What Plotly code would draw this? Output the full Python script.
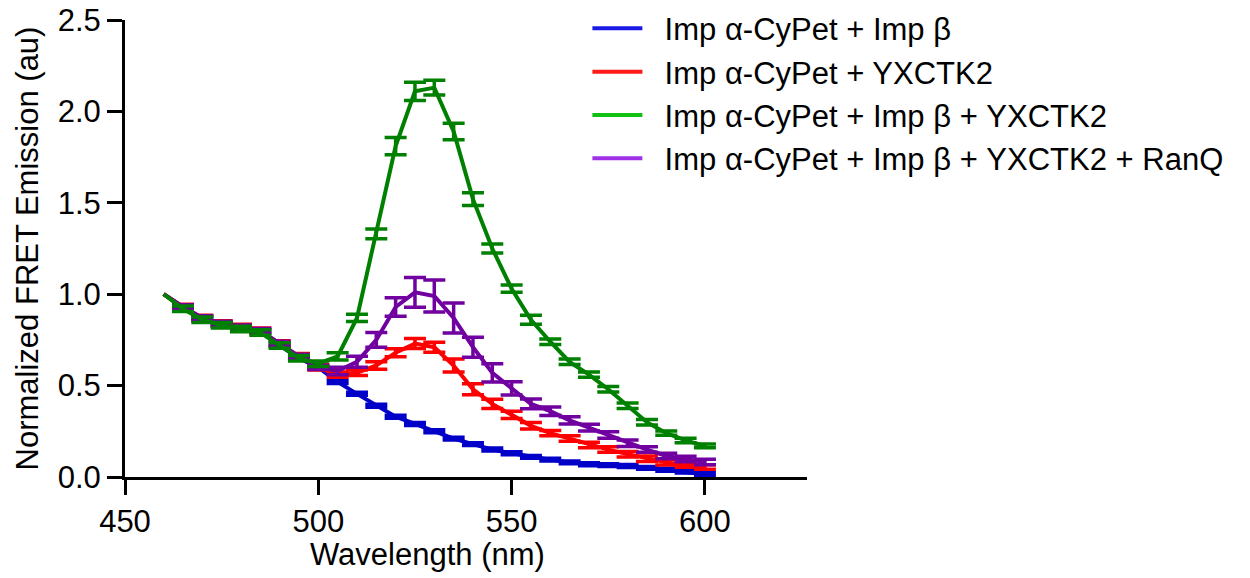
import plotly.graph_objects as go

# ---------------- data ----------------
wavelength = [460, 465, 470, 475, 480, 485, 490, 495, 500, 505, 510, 515, 520, 525, 530,
              535, 540, 545, 550, 555, 560, 565, 570, 575, 580, 585, 590, 595, 600]

blue_vals = [1.00, 0.93, 0.87, 0.84, 0.82, 0.80, 0.72, 0.65, 0.60, 0.52, 0.455, 0.39, 0.33, 0.29, 0.25,
             0.21, 0.18, 0.15, 0.13, 0.11, 0.095, 0.08, 0.07, 0.065, 0.06, 0.05, 0.04, 0.03, 0.015]
blue_err = [0, 0.008, 0.008, 0.008, 0.008, 0.008, 0.008, 0.008, 0.008, 0.008, 0.008, 0.008, 0.008, 0.008, 0.008,
            0.008, 0.008, 0.008, 0.008, 0.008, 0.008, 0.008, 0.008, 0.008, 0.008, 0.008, 0.008, 0.008, 0.008]

red_vals = [1.00, 0.93, 0.87, 0.84, 0.82, 0.80, 0.73, 0.66, 0.60, 0.56, 0.57, 0.61, 0.68, 0.73, 0.71,
            0.61, 0.48, 0.40, 0.34, 0.28, 0.24, 0.21, 0.175, 0.15, 0.125, 0.10, 0.08, 0.065, 0.055]
red_err = [0, 0.015, 0.015, 0.015, 0.015, 0.015, 0.015, 0.015, 0.015, 0.015, 0.015, 0.02, 0.022, 0.027, 0.027,
           0.036, 0.03, 0.025, 0.02, 0.018, 0.015, 0.015, 0.015, 0.015, 0.015, 0.015, 0.015, 0.012, 0.012]

green_vals = [1.00, 0.92, 0.86, 0.83, 0.81, 0.79, 0.72, 0.65, 0.62, 0.66, 0.87, 1.33, 1.81, 2.11, 2.13,
              1.89, 1.52, 1.25, 1.03, 0.86, 0.74, 0.63, 0.56, 0.48, 0.39, 0.30, 0.24, 0.20, 0.17]
green_err = [0, 0.015, 0.015, 0.015, 0.015, 0.015, 0.015, 0.015, 0.015, 0.02, 0.02, 0.027, 0.047, 0.05, 0.04,
             0.045, 0.035, 0.025, 0.02, 0.025, 0.015, 0.015, 0.015, 0.015, 0.015, 0.015, 0.012, 0.012, 0.01]

purple_vals = [1.00, 0.93, 0.87, 0.84, 0.82, 0.80, 0.73, 0.66, 0.60, 0.58, 0.63, 0.75, 0.93, 1.01, 0.99,
               0.87, 0.71, 0.57, 0.485, 0.40, 0.36, 0.31, 0.27, 0.23, 0.185, 0.15, 0.115, 0.098, 0.082]
purple_err = [0, 0.012, 0.012, 0.012, 0.012, 0.012, 0.012, 0.012, 0.012, 0.02, 0.03, 0.04, 0.05, 0.082, 0.087,
              0.082, 0.055, 0.05, 0.036, 0.027, 0.023, 0.02, 0.018, 0.018, 0.018, 0.015, 0.015, 0.015, 0.015]

series_names = [
    "Imp \u03b1-CyPet + Imp \u03b2",
    "Imp \u03b1-CyPet + YXCTK2",
    "Imp \u03b1-CyPet + Imp \u03b2 + YXCTK2",
    "Imp \u03b1-CyPet + Imp \u03b2 + YXCTK2 + RanQ",
]
plot_colors = ["#0000C8", "#FF0000", "#008000", "#7000A0"]
legend_colors = ["#1A1AE6", "#FF1A1A", "#12C012", "#A030E8"]

x_ticks = [450, 500, 550, 600]
y_ticks = [0.0, 0.5, 1.0, 1.5, 2.0, 2.5]

x_title = "Wavelength (nm)"
y_title = "Normalized FRET Emission (au)"

FONT = "Arial, 'Liberation Sans', sans-serif"
FS = 31

fig = go.Figure()

# draw order: blue, red, purple, green (green on top)
order = [
    (blue_vals, blue_err, 0),
    (red_vals, red_err, 1),
    (purple_vals, purple_err, 3),
    (green_vals, green_err, 2),
]
for vals, err, idx in order:
    col = plot_colors[idx]
    fig.add_trace(go.Scatter(
        x=wavelength, y=vals, mode="lines",
        line=dict(color=col, width=4),
        showlegend=False, hoverinfo="skip",
    ))
    fig.add_trace(go.Scatter(
        x=wavelength[1:], y=vals[1:], mode="markers",
        marker=dict(size=1, color="rgba(0,0,0,0)"),
        error_y=dict(type="data", array=err[1:], visible=True,
                     color=col, thickness=3.5, width=11),
        showlegend=False, hoverinfo="skip",
    ))

# legend entries
for i, name in enumerate(series_names):
    fig.add_trace(go.Scatter(
        x=[None], y=[None], mode="lines",
        line=dict(color=legend_colors[i], width=4),
        name="\u00a0\u00a0" + name, legendgroup=f"g{i}",
    ))

fig.update_layout(
    width=1250, height=578,
    margin=dict(l=125, r=443, t=20, b=101, autoexpand=False),
    paper_bgcolor="white", plot_bgcolor="white",
    font=dict(family=FONT, color="black", size=FS),
    legend=dict(
        x=0.678, y=1.04, xanchor="left", yanchor="top",
        font=dict(family=FONT, size=FS, color="black"),
        bgcolor="rgba(0,0,0,0)", itemwidth=50,
        traceorder="grouped", tracegroupgap=0,
    ),
    xaxis=dict(
        range=[450, 626.4], tickvals=x_ticks, ticktext=[str(v) for v in x_ticks],
        showline=True, linecolor="black", linewidth=3,
        ticks="outside", ticklen=15, tickwidth=3, tickcolor="black",
        showgrid=False, zeroline=False,
        tickfont=dict(family=FONT, size=FS, color="black"),
    ),
    yaxis=dict(
        range=[0, 2.5], tickvals=y_ticks, ticktext=[f"{v:.1f}" for v in y_ticks],
        showline=True, linecolor="black", linewidth=3,
        ticks="outside", ticklen=15, tickwidth=3, tickcolor="black",
        showgrid=False, zeroline=False,
        tickfont=dict(family=FONT, size=FS, color="black"),
        title=dict(text=y_title, font=dict(family=FONT, size=FS, color="black"), standoff=10),
    ),
    annotations=[dict(
        text=x_title, xref="paper", yref="paper", x=0.4435, y=-0.17,
        xanchor="center", yanchor="middle", showarrow=False,
        font=dict(family=FONT, size=FS, color="black"),
    )],
)

# remove the default page margin so the figure sits at the window's top-left corner
fig.write_html("out.html", config={"displayModeBar": False},
               post_script="document.body.style.margin='0px';")
